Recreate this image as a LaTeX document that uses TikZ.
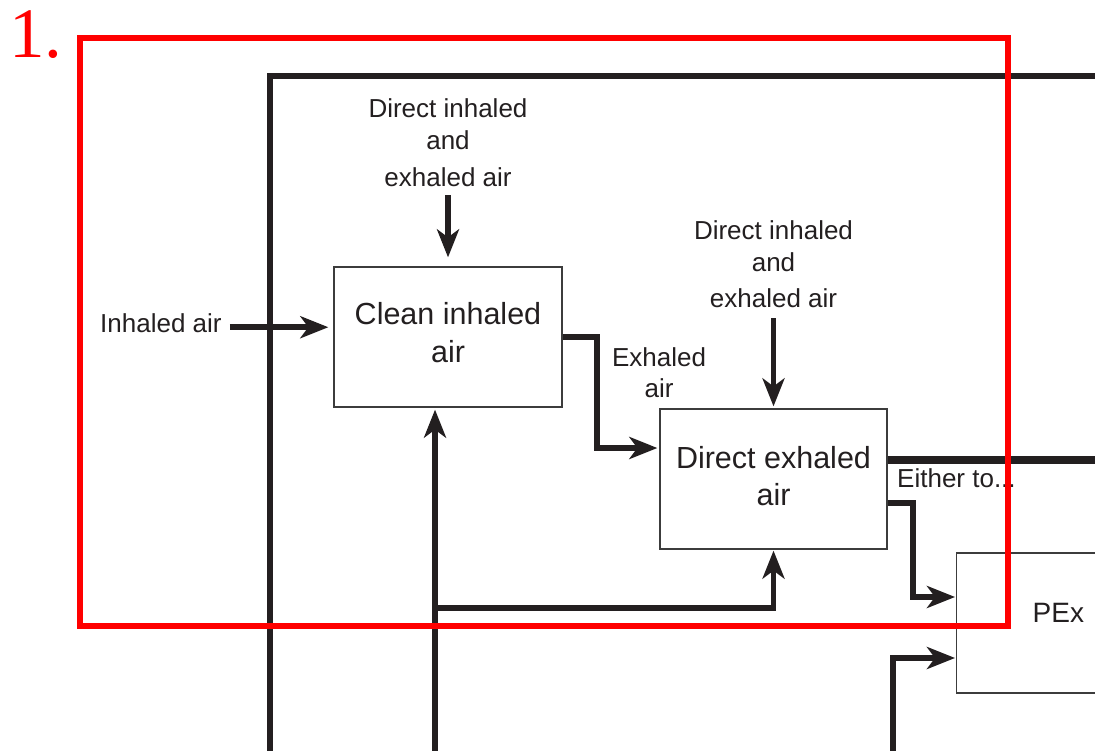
\documentclass[tikz,border=0pt]{standalone}
\usepackage{fontspec}
\setmainfont{Liberation Sans}
\newfontfamily\dgNumFont{Liberation Serif}
\usetikzlibrary{arrows.meta,calc}
\definecolor{ink}{RGB}{35,31,32}
\definecolor{boxline}{RGB}{60,60,60}
\definecolor{hred}{RGB}{255,0,0}
\newcommand{\dgBoxFont}{\fontsize{30.5}{37.5}\selectfont}
\newcommand{\dgLabFont}{\fontsize{26}{32}\selectfont}
\newcommand{\dgPexFont}{\fontsize{28}{34}\selectfont}
\begin{document}
\begin{tikzpicture}[x=1pt,y=-1pt,
  box/.style={draw=boxline, line width=1.3pt, text=ink, font=\dgBoxFont, align=center, inner sep=0pt},
  lab/.style={text=ink, font=\dgLabFont, align=center, inner sep=0pt},
  arr/.style={draw=ink, line width=5.5pt, -{Stealth[length=28pt,width=22pt,inset=8pt]}},
  frameline/.style={draw=ink, line width=6pt},
  thickline/.style={draw=ink, line width=7.5pt},
  redframe/.style={draw=hred, line width=6pt}]
\useasboundingbox (0,0) rectangle (1095,751);
\clip (0,0) rectangle (1095,751);

% outer black frame
\coordinate (fBL) at (270,760);
\coordinate (fTR) at (1100,76);
\draw[frameline] (fBL) |- (fTR);

% boxes
\node[box, minimum width=228pt, minimum height=140pt] (clean) at (448,337) {Clean inhaled\\air\rule[-9pt]{0pt}{9pt}};
\node[box, minimum width=227pt, minimum height=140pt] (direct) at (773.5,479) {Direct exhaled\\air\rule[-6pt]{0pt}{6pt}};
\node[box, anchor=west, minimum height=140pt, text width=200pt, align=left, inner xsep=76pt, font=\dgPexFont] (pex) at (956,623) {PEx\rule[-20pt]{0pt}{20pt}};

% labels
\node[lab] (inhA) at (448,143) {Direct inhaled\\and\\[5pt]exhaled air};
\node[lab] (inhB) at (773.5,264.5) {Direct inhaled\\and\\[4pt]exhaled air};
\node[lab] (exl) at (659,373) {Exhaled\\[-1pt]air};
\node[lab, anchor=base west] (inh) at (100,333) {Inhaled air};
\node[lab, anchor=base west] (either) at (897,487) {Either to...};

% connectors
\draw[arr, shorten <=8pt, shorten >=9pt] (inhA) -- (clean);
\draw[arr, shorten <=10pt, shorten >=2pt] (inhB) -- (direct);
\draw[arr, shorten <=8pt, shorten >=5pt] ([yshift=-3.5pt]inh.east) -- ([yshift=-3.5pt]inh.east -| clean.west);
\coordinate (j1) at (597,0);
\draw[arr, shorten >=2pt] (clean.east) -- (clean.east -| j1) |- ([yshift=31pt]direct.west);
\coordinate (outR) at (1100,460);
\draw[thickline] (direct.east |- outR) -- (outR);
\coordinate (j2) at (913,503);
\draw[arr, shorten >=1pt] (direct.east |- j2) -- (j2) |- ([yshift=26pt]pex.west);
\coordinate (b1) at (435,760);
\draw[arr, shorten >=2pt] (b1) -- (b1 |- clean.south);
\coordinate (br) at (435,608);
\draw[arr, shorten >=1pt] (br) -| (direct.south);
\coordinate (b2) at (893,760);
\draw[arr, shorten >=1pt] (b2) |- ([yshift=-35pt]pex.west);

% red highlight frame and number
\draw[redframe] (79.5,38.5) rectangle (1008,626);
\node[text=hred, font=\dgNumFont\fontsize{71}{80}\selectfont, anchor=base west, inner sep=0pt] (num) at (9,58) {1.};
\end{tikzpicture}
\end{document}
